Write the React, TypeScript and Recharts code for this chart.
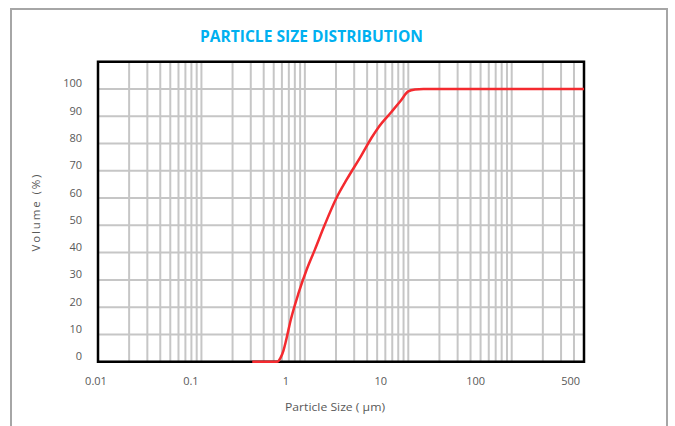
import { LineChart, Line, XAxis, YAxis, CartesianGrid, ReferenceArea } from "recharts";

// Particle size distribution, cumulative volume vs. size on a log axis (0.01 – 500 µm)
const SIZE_UM = [0.31, 0.4, 0.5, 0.54, 0.58, 0.62, 0.66, 0.73, 0.87, 1.04, 1.25, 1.55, 2.02, 2.55, 3.5, 4.43, 5.14, 6.8, 8.45, 10.0, 11.6, 14.0, 20, 50, 100, 200, 500];
const VOLUME_PCT = [0, 0, 0, 0, 1.3, 4, 8, 15.3, 25.2, 33.7, 41.1, 50, 60, 66.9, 75.5, 82.2, 85.9, 91.4, 95.7, 99.1, 99.8, 100, 100, 100, 100, 100, 100];

const X_DECADES = [0.01, 0.1, 1, 10, 100];
const X_STEPS = [1, 2, 3, 4, 5, 6, 7, 8, 9];
const X_GRID = X_DECADES.flatMap((d) => X_STEPS.map((s) => +(d * s).toPrecision(3))).filter((v) => v <= 500);
const X_LABELS = ["0.01", "0.1", "1", "10", "100", "500"];
const Y_TICKS = [0, 10, 20, 30, 40, 50, 60, 70, 80, 90, 100];

const data = SIZE_UM.map((s, i) => ({ size: s, vol: VOLUME_PCT[i] }));

const FONT = "'Open Sans', 'Liberation Sans', sans-serif";
const TXT = "#595959";
const GRID = "#c6c6c6";

function YTick({ x, y, payload }: any) {
  return (
    <text x={x} y={y - 1.5} textAnchor="end" fill={TXT} fontSize={11} fontFamily={FONT}>
      {payload.value}
    </text>
  );
}

function XLabelTick({ x, y, payload }: any) {
  return (
    <text x={x - 2} y={y + 23.5} textAnchor="middle" fill={TXT} fontSize={11} fontFamily={FONT}>
      {X_LABELS[payload.value]}
    </text>
  );
}

function NoTick() {
  return <g />;
}

export default function App() {
  return (
    <div style={{ position: "absolute", left: 0, top: 0, width: 675, height: 426, overflow: "hidden", background: "#fff" }}>
      <div style={{ position: "absolute", left: 10, top: 8, width: 658, height: 440, border: "2px solid #a6a6a6", boxSizing: "border-box" }} />
      <LineChart width={675} height={426} data={data} margin={{ top: 61.7, right: 91, left: 38, bottom: 34.3 }}>
        <XAxis
          dataKey="size"
          type="number"
          scale="log"
          domain={[0.01, 500]}
          ticks={X_GRID}
          allowDataOverflow
          tick={<NoTick />}
          axisLine={false}
          tickLine={false}
          height={0}
          interval={0}
        />
        <XAxis
          xAxisId="lbl"
          dataKey="size"
          type="number"
          domain={[0, 5.12]}
          ticks={[0, 1, 2, 3, 4, 5]}
          allowDataOverflow
          axisLine={false}
          tickLine={false}
          tickSize={0}
          tickMargin={0}
          height={30}
          interval={0}
          tick={<XLabelTick />}
        />
        <YAxis
          type="number"
          domain={[0, 110]}
          ticks={Y_TICKS}
          axisLine={false}
          tickLine={false}
          tickSize={0}
          tickMargin={16}
          width={60}
          interval={0}
          tick={<YTick />}
        />
        <CartesianGrid stroke={GRID} strokeWidth={2} />
        <ReferenceArea x1={0.01} x2={500} y1={0} y2={110} fill="none" stroke="#000" strokeWidth={2.5} ifOverflow="visible" />
        <Line
          type="monotone"
          dataKey="vol"
          stroke="#f42a2f"
          strokeWidth={2.5}
          dot={false}
          isAnimationActive={false}
        />
      </LineChart>
      <svg width={675} height={426} style={{ position: "absolute", left: 0, top: 0, pointerEvents: "none" }}>
        <text x={311.5} y={42} textAnchor="middle" fill="#00b0f0" fontSize={16} fontWeight={700} fontFamily={FONT} textLength={223} lengthAdjust="spacingAndGlyphs">
          PARTICLE SIZE DISTRIBUTION
        </text>
        <text x={0} y={0} transform="translate(40,213) rotate(-90)" textAnchor="middle" fill={TXT} fontSize={11.5} fontFamily={FONT} textLength={77} lengthAdjust="spacing">
          Volume (%)
        </text>
        <text x={335} y={411} textAnchor="middle" fill={TXT} fontSize={11.5} fontFamily={FONT} textLength={100} lengthAdjust="spacingAndGlyphs">
          Particle Size ( µm)
        </text>
      </svg>
    </div>
  );
}
